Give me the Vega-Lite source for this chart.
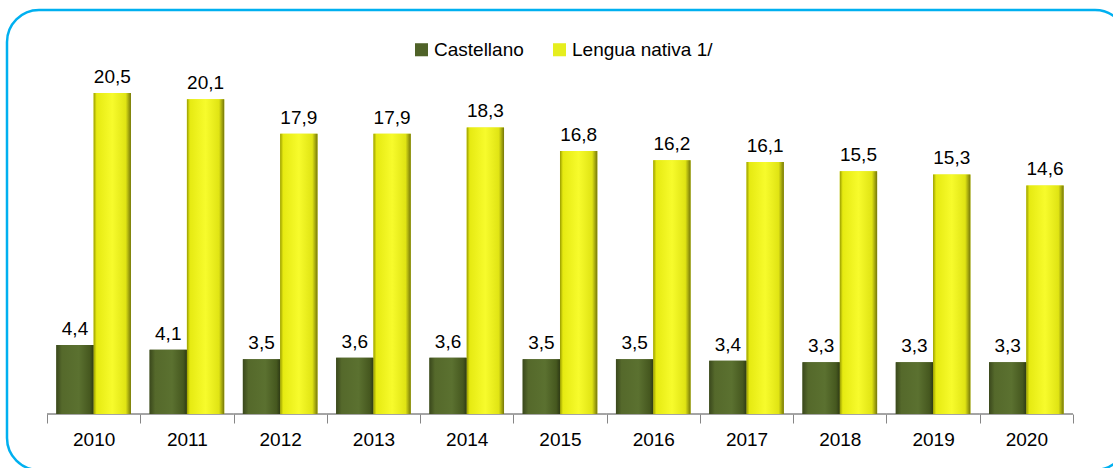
{
  "$schema": "https://vega.github.io/schema/vega-lite/v6.json",
  "width": 1120,
  "height": 460,
  "autosize": {"type": "none"},
  "padding": {"left": 7, "top": 10, "right": 0, "bottom": 0},
  "background": "white",
  "config": {
    "view": {"stroke": "#00b0f0", "strokeWidth": 2.5, "cornerRadius": 32},
    "font": "Liberation Sans",
    "locale": {"number": {"decimal": ",", "thousands": ".", "grouping": [3], "currency": ["", " €"]}}
  },
  "data": {
    "values": [
      {"year": "2010", "serie": "Castellano", "value": 4.4},
      {"year": "2010", "serie": "Lengua nativa 1/", "value": 20.5},
      {"year": "2011", "serie": "Castellano", "value": 4.1},
      {"year": "2011", "serie": "Lengua nativa 1/", "value": 20.1},
      {"year": "2012", "serie": "Castellano", "value": 3.5},
      {"year": "2012", "serie": "Lengua nativa 1/", "value": 17.9},
      {"year": "2013", "serie": "Castellano", "value": 3.6},
      {"year": "2013", "serie": "Lengua nativa 1/", "value": 17.9},
      {"year": "2014", "serie": "Castellano", "value": 3.6},
      {"year": "2014", "serie": "Lengua nativa 1/", "value": 18.3},
      {"year": "2015", "serie": "Castellano", "value": 3.5},
      {"year": "2015", "serie": "Lengua nativa 1/", "value": 16.8},
      {"year": "2016", "serie": "Castellano", "value": 3.5},
      {"year": "2016", "serie": "Lengua nativa 1/", "value": 16.2},
      {"year": "2017", "serie": "Castellano", "value": 3.4},
      {"year": "2017", "serie": "Lengua nativa 1/", "value": 16.1},
      {"year": "2018", "serie": "Castellano", "value": 3.3},
      {"year": "2018", "serie": "Lengua nativa 1/", "value": 15.5},
      {"year": "2019", "serie": "Castellano", "value": 3.3},
      {"year": "2019", "serie": "Lengua nativa 1/", "value": 15.3},
      {"year": "2020", "serie": "Castellano", "value": 3.3},
      {"year": "2020", "serie": "Lengua nativa 1/", "value": 14.6}
    ]
  },
  "encoding": {
    "x": {
      "field": "year",
      "type": "nominal",
      "scale": {"paddingInner": 0, "paddingOuter": 0.504, "align": 0.4255},
      "axis": {
        "title": null,
        "orient": "bottom",
        "offset": -56,
        "domain": false,
        "grid": false,
        "tickBand": "extent",
        "tickSize": 9,
        "tickColor": "#868686",
        "tickWidth": 1,
        "labelAngle": 0,
        "labelFontSize": 19,
        "labelColor": "#000000",
        "labelPadding": 7
      }
    },
    "y": {
      "field": "value",
      "type": "quantitative",
      "scale": {"domain": [-3.576, 25.8], "nice": false, "zero": false},
      "axis": null
    }
  },
  "layer": [
    {
      "transform": [{"filter": "datum.serie === 'Castellano'"}],
      "mark": {"type": "bar", "fill": "transparent", "stroke": "#868686", "strokeWidth": 1},
      "encoding": {
        "y": {"datum": 0, "type": "quantitative"},
        "y2": {"datum": 0}
      }
    },
    {
      "mark": {"type": "bar"},
      "encoding": {
        "xOffset": {"field": "serie", "type": "nominal", "sort": ["Castellano", "Lengua nativa 1/"], "scale": {"paddingOuter": 0.25, "paddingInner": 0}},
        "y2": {"datum": 0},
        "color": {
          "field": "serie",
          "type": "nominal",
          "scale": {"domain": ["Castellano", "Lengua nativa 1/"], "range": ["#4f6228", "#e6ee1e"]},
          "legend": {
            "orient": "none",
            "legendX": 405,
            "legendY": 30,
            "direction": "horizontal",
            "title": null,
            "symbolType": "square",
            "symbolSize": 170,
            "symbolStrokeWidth": 0,
            "labelFontSize": 19,
            "labelColor": "#000000",
            "labelOffset": 3,
            "columnPadding": 26
          }
        }
      }
    },
    {
      "transform": [{"filter": "datum.serie === 'Castellano'"}],
      "mark": {
        "type": "bar",
        "fill": {"gradient": "linear", "x1": 0, "y1": 0, "x2": 1, "y2": 0,
          "stops": [
            {"offset": 0, "color": "#3a481c"},
            {"offset": 0.15, "color": "#55692b"},
            {"offset": 0.6, "color": "#5b7130"},
            {"offset": 0.9, "color": "#46581f"},
            {"offset": 1, "color": "#2e3a14"}
          ]}
      },
      "encoding": {
        "xOffset": {"field": "serie", "type": "nominal", "sort": ["Castellano", "Lengua nativa 1/"], "scale": {"paddingOuter": 0.25, "paddingInner": 0}},
        "y2": {"datum": 0}
      }
    },
    {
      "transform": [{"filter": "datum.serie === 'Lengua nativa 1/'"}],
      "mark": {
        "type": "bar",
        "fill": {"gradient": "linear", "x1": 0, "y1": 0, "x2": 1, "y2": 0,
          "stops": [
            {"offset": 0, "color": "#9a9d00"},
            {"offset": 0.08, "color": "#e6ea12"},
            {"offset": 0.5, "color": "#f7fb2c"},
            {"offset": 0.86, "color": "#e0e414"},
            {"offset": 1, "color": "#74760a"}
          ]}
      },
      "encoding": {
        "xOffset": {"field": "serie", "type": "nominal", "sort": ["Castellano", "Lengua nativa 1/"], "scale": {"paddingOuter": 0.25, "paddingInner": 0}},
        "y2": {"datum": 0}
      }
    },
    {
      "mark": {"type": "text", "baseline": "alphabetic", "dy": -10, "fontSize": 19, "color": "#000000"},
      "encoding": {
        "xOffset": {"field": "serie", "type": "nominal", "sort": ["Castellano", "Lengua nativa 1/"], "scale": {"paddingOuter": 0.25, "paddingInner": 0}},
        "text": {"field": "value", "type": "quantitative", "format": ".1f"}
      }
    }
  ]
}
